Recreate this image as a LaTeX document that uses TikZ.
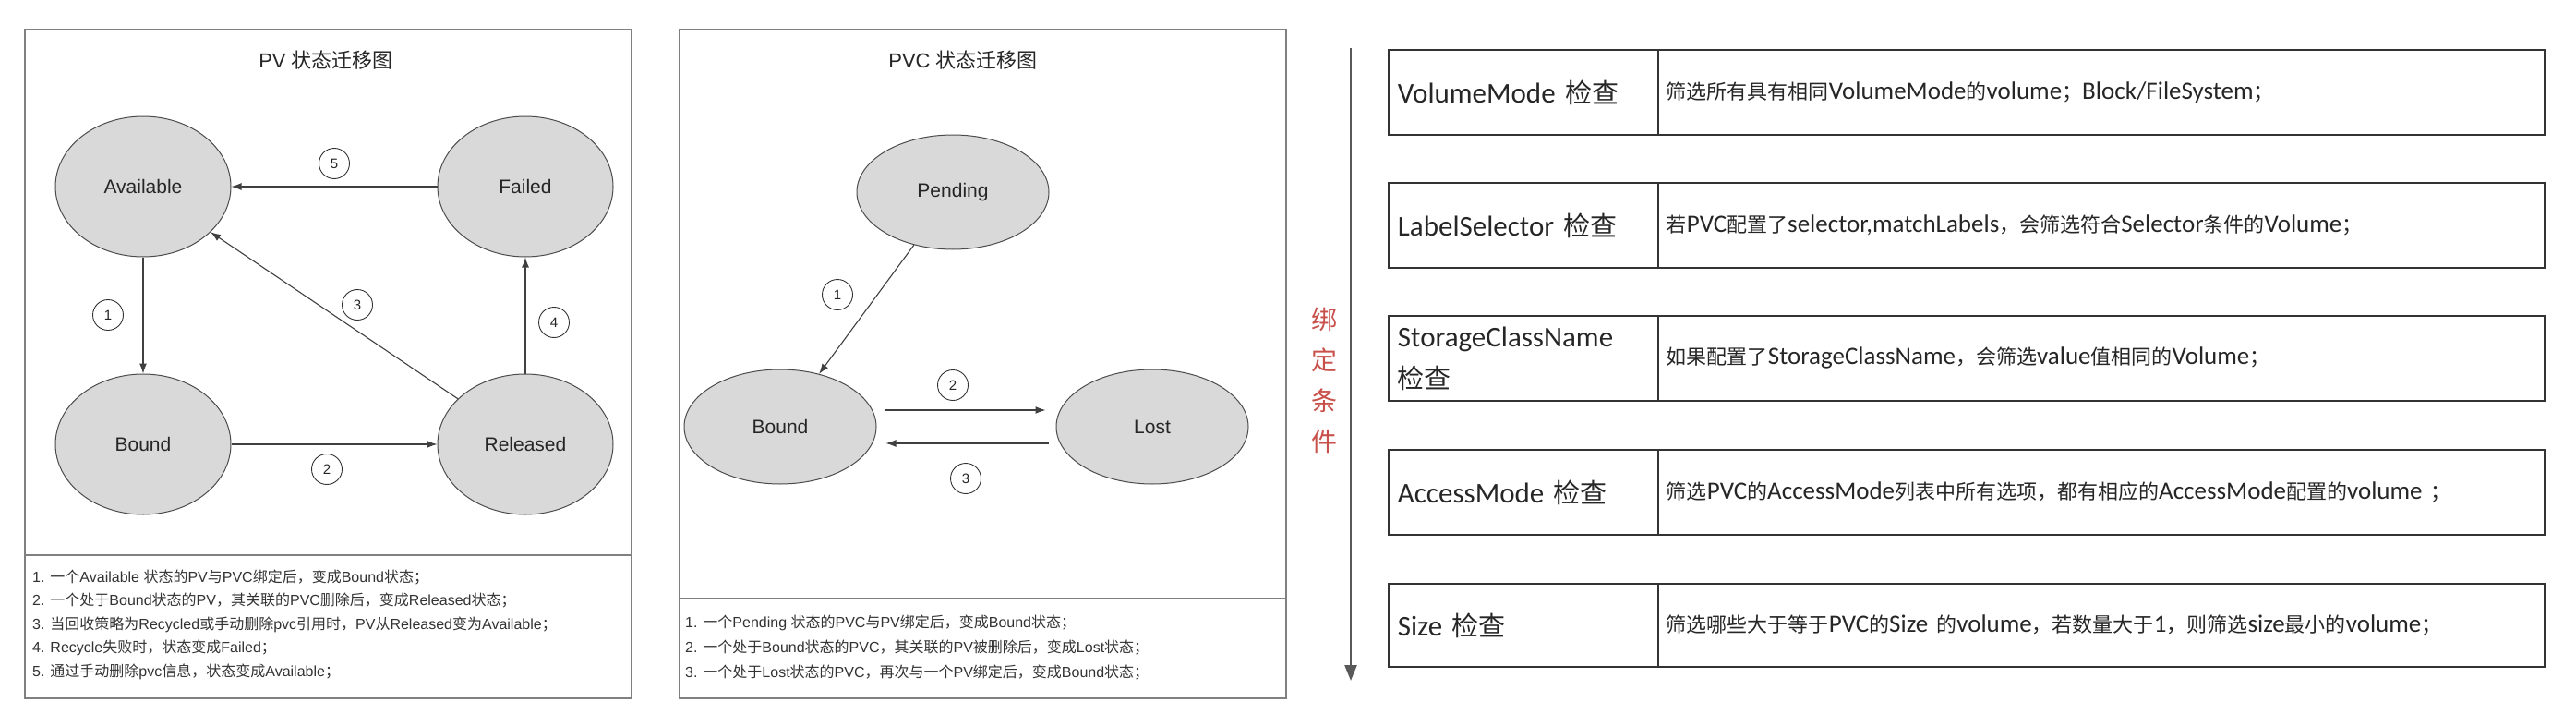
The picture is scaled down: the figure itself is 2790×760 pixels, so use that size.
\documentclass[tikz,border=0pt]{standalone}
\usepackage{fontspec}
\setmainfont{Liberation Sans}
\newfontfamily\cjk{Noto Sans CJK SC}
\newfontfamily\calfont{Carlito}
\usetikzlibrary{shapes.geometric,arrows.meta}
\newcommand{\zh}[1]{{\cjk #1}}
\newcommand{\zl}[1]{{\cjk\fontsize{29}{45}\selectfont #1}}
\newcommand{\zr}[1]{{\cjk\fontsize{22}{26}\selectfont #1}}
\definecolor{ellfill}{HTML}{D9D9D9}
\definecolor{redtxt}{HTML}{C8504A}
\begin{document}
\begin{tikzpicture}[x=1pt,y=-1pt,
  state/.style={ellipse, draw=black!70, fill=ellfill, line width=1pt, inner sep=0pt, font=\fontsize{21}{25}\selectfont, text=black!85},
  pvstate/.style={state, minimum width=190pt, minimum height=152pt},
  pvcstate/.style={state, minimum width=208pt, minimum height=124pt},
  num/.style={circle, draw=black!80, line width=0.9pt, minimum size=33pt, inner sep=0pt, font=\fontsize{15}{18}\selectfont, text=black!85},
  arr/.style={draw=black!75, line width=1.1pt, -{Latex[length=11pt,width=8pt]}},
  frame/.style={draw=black!50, line width=1.6pt},
  note/.style={anchor=west, inner sep=0pt, font=\fontsize{16}{20}\selectfont, text=black!80},
  title/.style={font=\fontsize{22}{26}\selectfont, text=black!85},
  cellL/.style={draw=black!80, line width=1.8pt, anchor=north west, minimum width=292pt, minimum height=92pt, text width=272pt, inner xsep=10pt, inner ysep=0pt, align=left, font=\calfont\fontsize{31}{45}\selectfont, text=black!85},
  cellR/.style={draw=black!80, line width=1.8pt, anchor=north west, minimum width=960pt, minimum height=92pt, text width=942pt, inner xsep=9pt, inner ysep=0pt, align=left, font=\calfont\fontsize{27}{32}\selectfont, text=black!85}
]
\useasboundingbox[fill=white] (0,0) rectangle (2790,760);

% ---------- PV panel ----------
\node[frame, anchor=north west, minimum width=657pt, minimum height=724pt, inner sep=0pt] (pvbox) at (26,31) {};
\draw[frame] (26,601) -- (683,601);
\node[title] (pvt) at (353,65) {PV \zh{状态迁移图}};
\node[pvstate] (Av) at (155,202) {Available};
\node[pvstate] (Fa) at (569,202) {Failed};
\node[pvstate] (Bo) at (155,481) {Bound};
\node[pvstate] (Re) at (569,481) {Released};
\draw[arr] (Fa) -- (Av);
\draw[arr] (Av) -- (Bo);
\draw[arr] (Re) -- (Av);
\draw[arr] (Re) -- (Fa);
\draw[arr] (Bo) -- (Re);
\node[num] (n5) at (362,177) {5};
\node[num] (n1) at (117,341) {1};
\node[num] (n3) at (387,330) {3};
\node[num] (n4) at (600,349) {4};
\node[num] (n2) at (354,508) {2};
\node[note] (pn1) at (35,625) {1. \zh{一个}Available \zh{状态的}PV\zh{与}PVC\zh{绑定后，变成}Bound\zh{状态；}};
\node[note] (pn2) at (35,650) {2. \zh{一个处于}Bound\zh{状态的}PV\zh{，其关联的}PVC\zh{删除后，变成}Released\zh{状态；}};
\node[note] (pn3) at (35,676) {3. \zh{当回收策略为}Recycled\zh{或手动删除}pvc\zh{引用时，}PV\zh{从}Released\zh{变为}Available\zh{；}};
\node[note] (pn4) at (35,701) {4. Recycle\zh{失败时，状态变成}Failed\zh{；}};
\node[note] (pn5) at (35,727) {5. \zh{通过手动删除}pvc\zh{信息，状态变成}Available\zh{；}};

% ---------- PVC panel ----------
\node[frame, anchor=north west, minimum width=657pt, minimum height=724pt, inner sep=0pt] (pvcbox) at (735,31) {};
\draw[frame] (735,648) -- (1392,648);
\node[title] (pvct) at (1043,65) {PVC \zh{状态迁移图}};
\node[pvcstate] (Pe) at (1032,208) {Pending};
\node[pvcstate] (Bc) at (845,462) {Bound};
\node[pvcstate] (Lo) at (1248,462) {Lost};
\draw[arr] (Pe) -- (Bc);
\draw[arr] ([shift={(8pt,18pt)}]Bc.east) -- ([shift={(-11pt,18pt)}]Lo.west);
\draw[arr] ([shift={(-8pt,-18pt)}]Lo.west) -- ([shift={(10pt,-18pt)}]Bc.east);
\node[num] (c1) at (907,319) {1};
\node[num] (c2) at (1032,417) {2};
\node[num] (c3) at (1046,518) {3};
\node[note] (qn1) at (742,674) {1. \zh{一个}Pending \zh{状态的}PVC\zh{与}PV\zh{绑定后，变成}Bound\zh{状态；}};
\node[note] (qn2) at (742,701) {2. \zh{一个处于}Bound\zh{状态的}PVC\zh{，其关联的}PV\zh{被删除后，变成}Lost\zh{状态；}};
\node[note] (qn3) at (742,728) {3. \zh{一个处于}Lost\zh{状态的}PVC\zh{，再次与一个}PV\zh{绑定后，变成}Bound\zh{状态；}};

% ---------- binding conditions ----------
\coordinate (vtop) at (1463,52);
\coordinate (vbot) at (1463,737);
\draw[line width=2.5pt, draw=black!65, -{Triangle[length=17pt,width=13pt]}] (vtop) -- (vbot);
\node[font=\cjk\fontsize{28}{44}\selectfont, text=redtxt, align=center, inner sep=0pt] (cond) at (1434,412) {绑\\定\\条\\件};

\node[cellL] (l1) at (1503,53) {VolumeMode \zl{检查}};
\node[cellR] (r1) at (1795,53) {\zr{筛选所有具有相同}VolumeMode\zr{的}volume\zr{；}Block/FileSystem\zr{；}};
\node[cellL] (l2) at (1503,197) {LabelSelector \zl{检查}};
\node[cellR] (r2) at (1795,197) {\zr{若}PVC\zr{配置了}selector,matchLabels\zr{，会筛选符合}Selector\zr{条件的}Volume\zr{；}};
\node[cellL] (l3) at (1503,341) {StorageClassName\\\zl{检查}};
\node[cellR] (r3) at (1795,341) {\zr{如果配置了}StorageClassName\zr{，会筛选}value\zr{值相同的}Volume\zr{；}};
\node[cellL] (l4) at (1503,486) {AccessMode \zl{检查}};
\node[cellR] (r4) at (1795,486) {\zr{筛选}PVC\zr{的}AccessMode\zr{列表中所有选项，都有相应的}AccessMode\zr{配置的}volume \zr{；}};
\node[cellL, minimum height=90pt] (l5) at (1503,631) {Size \zl{检查}};
\node[cellR, minimum height=90pt] (r5) at (1795,631) {\zr{筛选哪些大于等于}PVC\zr{的}Size \zr{的}volume\zr{，若数量大于}1\zr{，则筛选}size\zr{最小的}volume\zr{；}};
\end{tikzpicture}
\end{document}
